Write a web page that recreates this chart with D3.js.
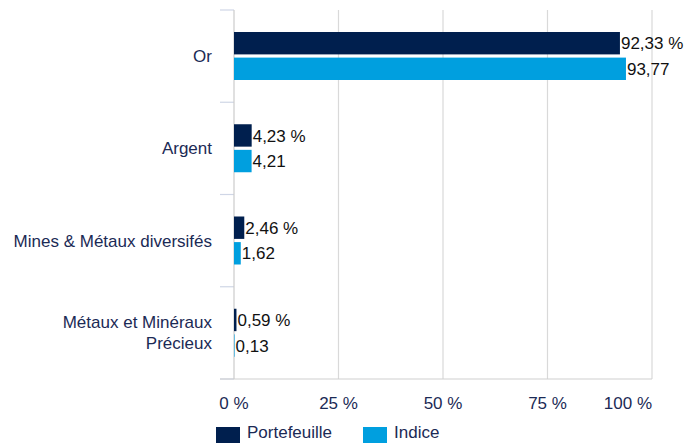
<!DOCTYPE html>
<html><head><meta charset="utf-8">
<script src="https://cdn.jsdelivr.net/npm/d3@7"></script>
<style>body{margin:0;background:#fff}svg{display:block;font-family:"Liberation Sans",Arial,sans-serif}</style>
</head><body><svg id="c" width="685" height="443"></svg>
<script>
const categories = [["Or"],["Argent"],["Mines & Métaux diversifés"],["Métaux et Minéraux","Précieux"]];
const portefeuille = [92.33, 4.23, 2.46, 0.59];
const indice = [93.77, 4.21, 1.62, 0.13];
const seriesNames = ["Portefeuille","Indice"];
const tickValues = [0,25,50,75,100];
const colors = ["#001f4e","#009fdf"];
const fmt = v => v.toFixed(2).replace(".", ",");
const FS = 17;

const svg = d3.select("#c");
const x = d3.scaleLinear().domain([0,100]).range([234,652]);
const y = d3.scaleBand().domain(d3.range(categories.length)).range([10,379]);
const sub = d3.scaleBand().domain([0,1]).range([22,70]).paddingInner(0.125);

svg.append("g").selectAll("line").data(tickValues.slice(1)).join("line")
  .attr("x1",d=>x(d)).attr("x2",d=>x(d)).attr("y1",10).attr("y2",379)
  .attr("stroke","#d9d9d9").attr("stroke-width",1.2);
svg.append("g").selectAll("line").data(d3.range(categories.length+1)).join("line")
  .attr("x1",220).attr("x2",234)
  .attr("y1",d=> d<categories.length ? y(d) : 379).attr("y2",d=> d<categories.length ? y(d) : 379)
  .attr("stroke","#cfd6e6").attr("stroke-width",1.2);
svg.append("line").attr("x1",220).attr("x2",652).attr("y1",379).attr("y2",379).attr("stroke","#d0d0d0").attr("stroke-width",1.2);
svg.append("line").attr("x1",234).attr("x2",234).attr("y1",10).attr("y2",379).attr("stroke","#cccccc").attr("stroke-width",1.2);

const data = [];
categories.forEach((c,i)=>{
  data.push({i, s:0, v:portefeuille[i]});
  data.push({i, s:1, v:indice[i]});
});
const g = svg.append("g");
g.selectAll("rect").data(data).join("rect")
  .attr("x",x(0)).attr("y",d=>y(d.i)+sub(d.s))
  .attr("width",d=>x(d.v)-x(0)).attr("height",sub.bandwidth())
  .attr("fill",d=>colors[d.s]);
g.selectAll("text").data(data).join("text")
  .attr("x",d=>x(d.v)+1).attr("y",d=>y(d.i)+sub(d.s)+sub.bandwidth()/2)
  .attr("dy","0.36em").attr("font-size",FS).attr("fill","#111")
  .text(d=>fmt(d.v)+(d.s===0?" %":""));

const cl = svg.append("g").selectAll("text").data(categories).join("text")
  .attr("text-anchor","end").attr("font-size",FS).attr("fill","#1b2a55")
  .attr("x",212)
  .attr("y",(d,i)=>y(i)+y.bandwidth()/2 - (d.length-1)*10.5)
  .attr("dy","0.36em");
cl.selectAll("tspan").data(d=>d).join("tspan").attr("x",212).attr("dy",(d,j)=>j? "21":null).text(d=>d);

svg.append("g").selectAll("text").data(tickValues).join("text")
  .attr("x",d=>x(d))
  .attr("y",409)
  .attr("text-anchor",(d,i)=> i===tickValues.length-1 ? "end" : "middle")
  .attr("font-size",FS).attr("fill","#1b2a55").text(d=>d+" %");

const leg = svg.append("g").selectAll("g").data(seriesNames).join("g")
  .attr("transform",(d,i)=>`translate(${[216,363][i]},427)`);
leg.append("rect").attr("width",24).attr("height",18).attr("fill",(d,i)=>colors[i]);
leg.append("text").attr("x",31).attr("y",11).attr("font-size",FS).attr("fill","#1b2a55").text(d=>d);
</script></body></html>
